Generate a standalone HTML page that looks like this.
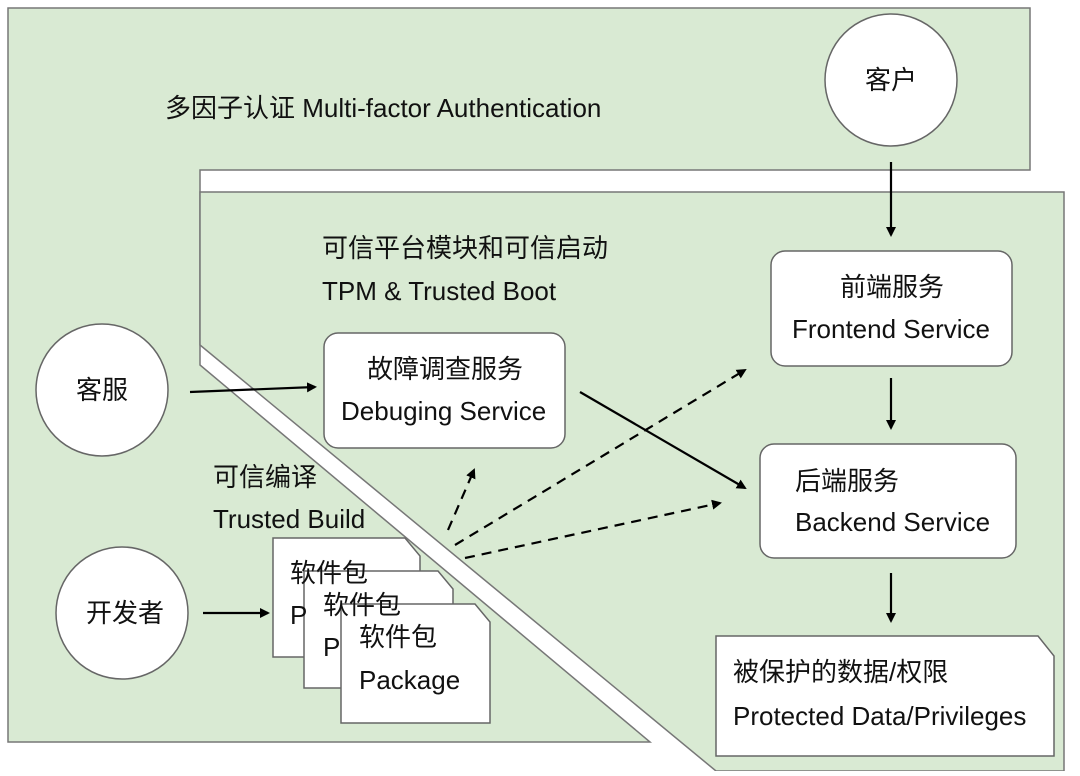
<!DOCTYPE html>
<html><head><meta charset="utf-8"><style>
html,body{margin:0;padding:0;background:#fff}
svg text{font-family:"Liberation Sans","Noto Sans CJK SC",sans-serif;fill:#111;font-size:26px}
</style></head><body>
<svg width="1080" height="771" viewBox="0 0 1080 771" xmlns="http://www.w3.org/2000/svg">
<defs><marker id="a" markerWidth="10" markerHeight="10" refX="8" refY="5" orient="auto" markerUnits="userSpaceOnUse"><path d="M0,0 L10,5 L0,10 z" fill="#000"/></marker></defs>
<polygon points="8,8 1030,8 1030,170 200,170 200,365 650,742 8,742" fill="#d9ead3" stroke="#777" stroke-width="1.5"/>
<polygon points="200,192 1064,192 1064,771 716,771 200,345" fill="#d9ead3" stroke="#777" stroke-width="1.5"/>
<text x="165" y="117">多因子认证 Multi-factor Authentication</text>
<text x="322" y="257">可信平台模块和可信启动</text>
<text x="322" y="300">TPM &amp; Trusted Boot</text>
<text x="213" y="486">可信编译</text>
<text x="213" y="528">Trusted Build</text>
<g fill="#fff" stroke="#666" stroke-width="1.5">
<circle cx="891" cy="80" r="66"/>
<circle cx="102" cy="390" r="66"/>
<circle cx="122" cy="613" r="66"/>
<rect x="771" y="251" width="241" height="115" rx="14"/>
<rect x="760" y="444" width="256" height="114" rx="14"/>
<rect x="324" y="333" width="241" height="115" rx="14"/>
<polygon points="716,636 1038,636 1054,656 1054,756 716,756"/>
<polygon points="273,538 405,538 420,556 420,657 273,657"/>
<polygon points="304,571 438,571 453,589 453,688 304,688"/>
<polygon points="341,604 475,604 490,622 490,723 341,723"/>
</g>
<text x="865" y="89">客户</text>
<text x="76" y="399">客服</text>
<text x="86" y="622">开发者</text>
<text x="840" y="296">前端服务</text>
<text x="792" y="338">Frontend Service</text>
<text x="795" y="490">后端服务</text>
<text x="795" y="531">Backend Service</text>
<text x="367" y="378">故障调查服务</text>
<text x="341" y="420">Debuging Service</text>
<text x="733" y="681">被保护的数据/权限</text>
<text x="733" y="725">Protected Data/Privileges</text>
<text x="290" y="582">软件包</text>
<text x="290" y="624">P</text>
<text x="323" y="614">软件包</text>
<text x="323" y="656">P</text>
<text x="359" y="646">软件包</text>
<text x="359" y="689">Package</text>
<g stroke="#000" stroke-width="2.2" fill="none" marker-end="url(#a)">
<line x1="891" y1="162" x2="891" y2="235"/>
<line x1="891" y1="378" x2="891" y2="428"/>
<line x1="891" y1="573" x2="891" y2="621"/>
<line x1="190" y1="392" x2="315" y2="387"/>
<line x1="203" y1="613" x2="268" y2="613"/>
<line x1="580" y1="392" x2="745" y2="488"/>
<g stroke-dasharray="10,7">
<line x1="448" y1="530" x2="474" y2="470"/>
<line x1="455" y1="545" x2="745" y2="370"/>
<line x1="465" y1="558" x2="720" y2="503"/>
</g>
</g>
</svg>
</body></html>
